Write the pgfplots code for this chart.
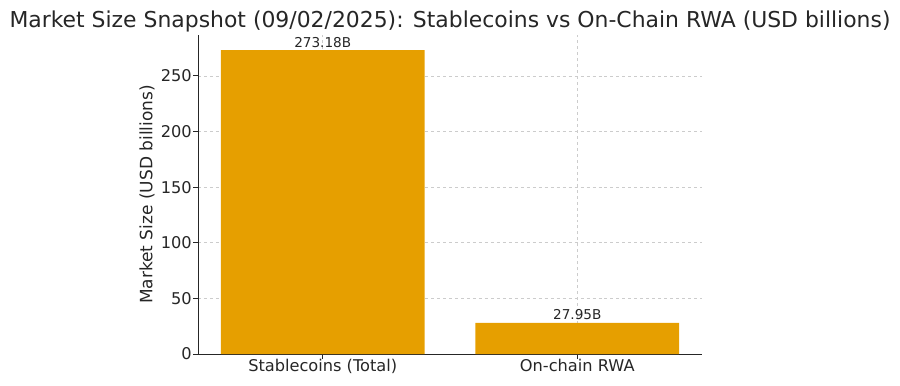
\documentclass[border=0pt]{standalone}
\usepackage{fontspec}
\setmainfont{DejaVu Sans}
\usepackage{pgfplots}
\pgfplotsset{compat=1.18}
\definecolor{barc}{HTML}{E69F00}
\definecolor{txt}{HTML}{262626}
\definecolor{gridc}{HTML}{CCCCCC}
\begin{document}
\begin{tikzpicture}[x=1bp,y=1bp]
\useasboundingbox (0,0) rectangle (900,385);
\begin{axis}[
  at={(198bp,31bp)}, anchor=south west,
  width=504bp, height=319bp, scale only axis,
  xmin=-0.49, xmax=1.49, ymin=0, ymax=286.84,
  axis lines=left,
  axis line style={-, draw=txt, line width=1bp},
  tick style={draw=txt, line width=1bp},
  major tick length=5bp,
  tick align=outside,
  xtick={0,1},
  xticklabels={Stablecoins (Total), On-chain RWA},
  ytick={0,50,100,150,200,250},
  grid=major,
  major grid style={gridc, dashed, line width=0.7bp},
  /pgf/number format/assume math mode=true,
  ticklabel style={font=\fontsize{16.2bp}{19bp}\selectfont, text=txt},
  xticklabel style={anchor=base, yshift=-12bp},
  yticklabel style={anchor=east, inner sep=0pt, xshift=-1bp},
  ylabel={Market Size (USD billions)},
  every axis y label/.style={at={(rel axis cs:0,0.5)}, xshift=-51bp, rotate=90, anchor=center, font=\fontsize{17bp}{20bp}\selectfont, text=txt},
  nodes near coords,
  point meta=explicit symbolic,
  every node near coord/.append style={anchor=base, yshift=3bp, inner sep=0pt, font=\fontsize{13.6bp}{16bp}\selectfont, text=txt},
]
\addplot[ybar, bar width=0.8, fill=barc, draw=none] coordinates {(0,273.18)[273.18B] (1,27.95)[27.95B]};
\end{axis}
\node[anchor=base, font=\fontsize{21.9bp}{26bp}\selectfont, text=txt] at (450,358) {Market Size Snapshot (09/02/2025): Stablecoins vs On-Chain RWA (USD billions)};
\end{tikzpicture}
\end{document}
